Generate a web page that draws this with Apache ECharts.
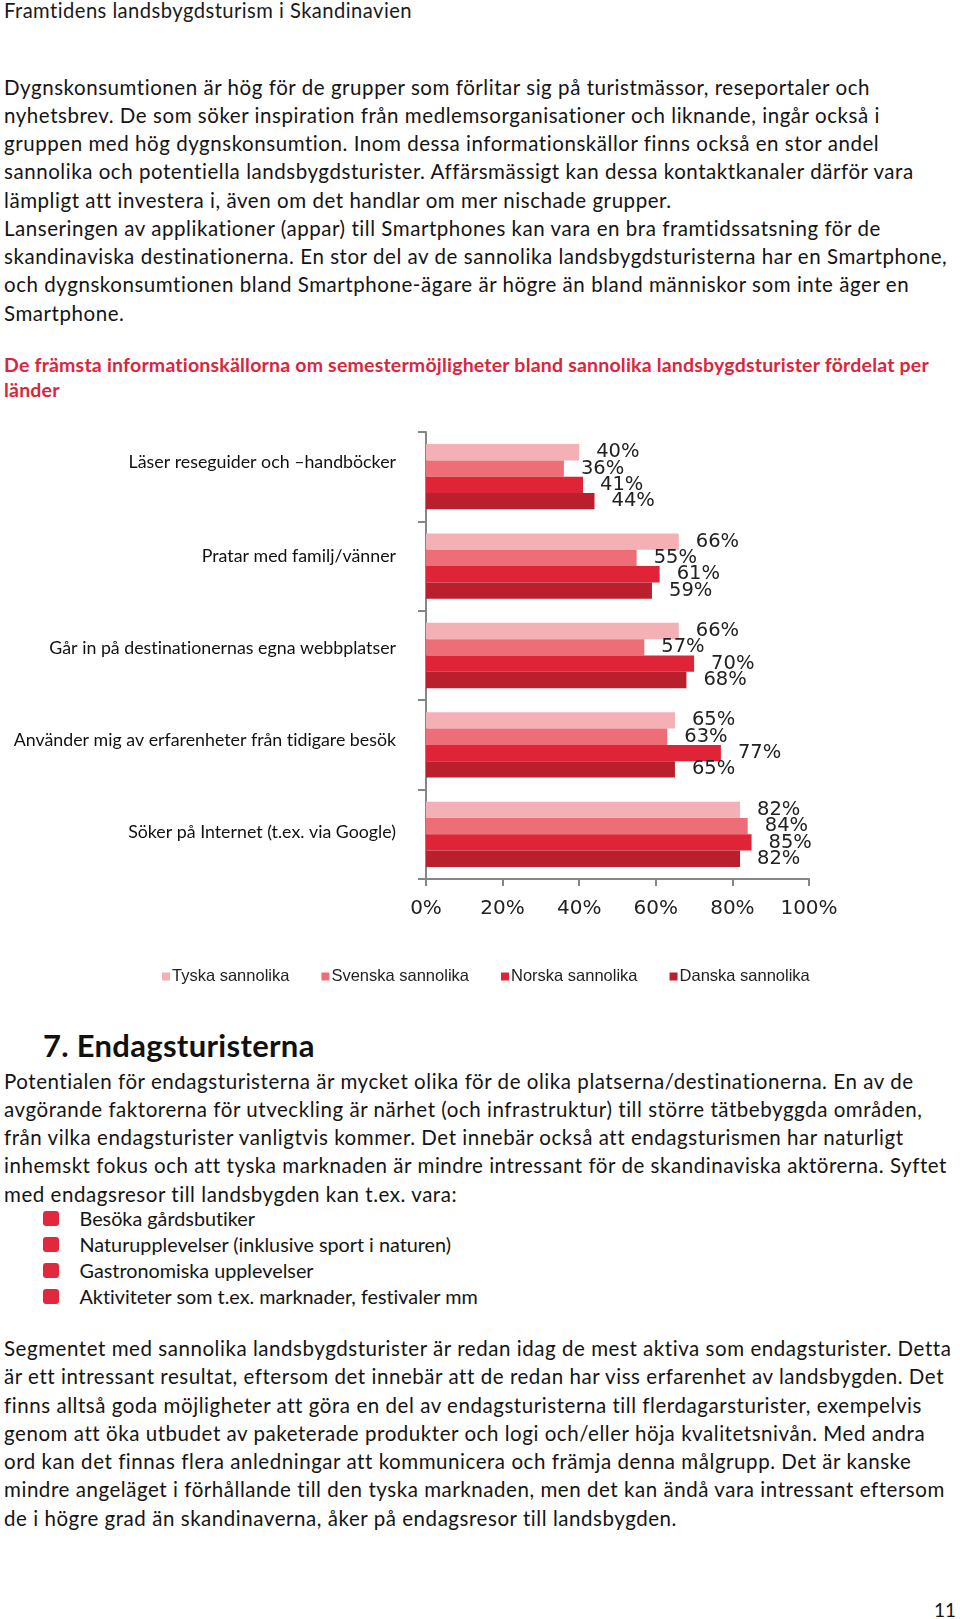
<!DOCTYPE html>
<html>
<head>
<meta charset="utf-8">
<script src="https://cdn.jsdelivr.net/npm/echarts@6/dist/echarts.min.js"></script>
<style>
  html, body { margin: 0; padding: 0; background: #fff; }
  body { width: 960px; height: 1619px; position: relative; overflow: hidden; font-family: Lato, "Noto Sans", sans-serif; color: #141414; font-variant-ligatures: none; }
  .blk { position: absolute; left: 4px; }
  .blk div { white-space: nowrap; }
  .body { font-size: 20.5px; letter-spacing: 0.55px; line-height: 28.25px; }
  #hdr { top: -0.5px; font-size: 20.2px; letter-spacing: 0.45px; line-height: 21px; color: #1a1a1a; }
  #p1 { top: 72.5px; }
  #ttl { top: 351.5px; font-size: 19.5px; letter-spacing: 0.2px; line-height: 25.8px; font-weight: bold; color: #DA263C; }
  #h7 { top: 1027px; left: 43px; font-size: 31px; letter-spacing: 0.3px; line-height: 36px; font-weight: bold; color: #111; }
  #p2 { top: 1066.7px; }
  #bul { top: 1206.2px; left: 0; font-size: 19.8px; line-height: 25.8px; }
  #bul div { position: relative; padding-left: 79.5px; }
  #bul div span.sq { position: absolute; left: 43px; top: 5px; width: 16px; height: 15px; border-radius: 3px; background: #E2283D; }
  #p3 { top: 1334px; }
  #pg { position: absolute; right: 4px; top: 1599px; font-size: 19px; line-height: 22px; }
  #chart { position: absolute; left: 0; top: 400px; width: 960px; height: 600px; }
</style>
</head>
<body>
<div id="hdr" class="blk">Framtidens landsbygdsturism i Skandinavien</div>
<div id="p1" class="blk body">
  <div>Dygnskonsumtionen är hög för de grupper som förlitar sig på turistmässor, reseportaler och</div>
  <div>nyhetsbrev. De som söker inspiration från medlemsorganisationer och liknande, ingår också i</div>
  <div>gruppen med hög dygnskonsumtion. Inom dessa informationskällor finns också en stor andel</div>
  <div>sannolika och potentiella landsbygdsturister. Affärsmässigt kan dessa kontaktkanaler därför vara</div>
  <div>lämpligt att investera i, även om det handlar om mer nischade grupper.</div>
  <div>Lanseringen av applikationer (appar) till Smartphones kan vara en bra framtidssatsning för de</div>
  <div>skandinaviska destinationerna. En stor del av de sannolika landsbygdsturisterna har en Smartphone,</div>
  <div>och dygnskonsumtionen bland Smartphone-ägare är högre än bland människor som inte äger en</div>
  <div>Smartphone.</div>
</div>
<div id="ttl" class="blk">
  <div>De främsta informationskällorna om semestermöjligheter bland sannolika landsbygdsturister fördelat per</div>
  <div>länder</div>
</div>
<div id="chart"></div>
<div id="h7" class="blk">7. Endagsturisterna</div>
<div id="p2" class="blk body">
  <div>Potentialen för endagsturisterna är mycket olika för de olika platserna/destinationerna. En av de</div>
  <div>avgörande faktorerna för utveckling är närhet (och infrastruktur) till större tätbebyggda områden,</div>
  <div>från vilka endagsturister vanligtvis kommer. Det innebär också att endagsturismen har naturligt</div>
  <div>inhemskt fokus och att tyska marknaden är mindre intressant för de skandinaviska aktörerna. Syftet</div>
  <div>med endagsresor till landsbygden kan t.ex. vara:</div>
</div>
<div id="bul" class="blk">
  <div><span class="sq"></span>Besöka gårdsbutiker</div>
  <div><span class="sq"></span>Naturupplevelser (inklusive sport i naturen)</div>
  <div><span class="sq"></span>Gastronomiska upplevelser</div>
  <div><span class="sq"></span>Aktiviteter som t.ex. marknader, festivaler mm</div>
</div>
<div id="p3" class="blk body">
  <div>Segmentet med sannolika landsbygdsturister är redan idag de mest aktiva som endagsturister. Detta</div>
  <div>är ett intressant resultat, eftersom det innebär att de redan har viss erfarenhet av landsbygden. Det</div>
  <div>finns alltså goda möjligheter att göra en del av endagsturisterna till flerdagarsturister, exempelvis</div>
  <div>genom att öka utbudet av paketerade produkter och logi och/eller höja kvalitetsnivån. Med andra</div>
  <div>ord kan det finnas flera anledningar att kommunicera och främja denna målgrupp. Det är kanske</div>
  <div>mindre angeläget i förhållande till den tyska marknaden, men det kan ändå vara intressant eftersom</div>
  <div>de i högre grad än skandinaverna, åker på endagsresor till landsbygden.</div>
</div>
<div id="pg">11</div>

<script>
// ---- data ----
const categories = [
  "Läser reseguider och –handböcker",
  "Pratar med familj/vänner",
  "Går in på destinationernas egna webbplatser",
  "Använder mig av erfarenheter från tidigare besök",
  "Söker på Internet (t.ex. via Google)"
];
const seriesNames = ["Tyska sannolika", "Svenska sannolika", "Norska sannolika", "Danska sannolika"];
const tyska   = [40, 66, 66, 65, 82];
const svenska = [36, 55, 57, 63, 84];
const norska  = [41, 61, 70, 77, 85];
const danska  = [44, 59, 68, 65, 82];
const xTicks = [0, 20, 40, 60, 80, 100];

// ---- styles ----
const colors = ["#F3B0B5", "#EE6E77", "#DF2437", "#BA1F2E"];
const labelLift = [14, 10, 7, 5, 2];
const rich = {};
labelLift.forEach((d, i) => { rich["o" + i] = { padding: [0, 0, 2 * d, 0], fontFamily: "Lato", fontSize: 17.8, color: "#111" }; });

const chart = echarts.init(document.getElementById("chart"), null, { renderer: "canvas" });
const valueSets = [tyska, svenska, norska, danska];
chart.setOption({
  animation: false,
  color: colors,
  grid: { left: 426, top: 32, width: 383, height: 447, containLabel: false },
  legend: {
    data: seriesNames,
    left: 157, top: 563,
    icon: "rect", itemWidth: 8, itemHeight: 8, itemGap: 32,
    textStyle: { fontFamily: "Liberation Sans", fontSize: 16.5, color: "#222", padding: [0, 0, 0, -3] }
  },
  xAxis: {
    type: "value", min: xTicks[0], max: xTicks[xTicks.length - 1], interval: 20,
    axisLine: { show: true, lineStyle: { color: "#868686", width: 2 } },
    axisTick: { show: true, inside: false, length: 7, lineStyle: { color: "#868686", width: 2 } },
    splitLine: { show: false },
    axisLabel: { formatter: "{value}%", margin: 20, fontFamily: "DejaVu Sans", fontSize: 20, color: "#222" }
  },
  yAxis: {
    type: "category", data: categories, inverse: true,
    axisLine: { show: true, lineStyle: { color: "#868686", width: 2 } },
    axisTick: { show: true, inside: false, length: 8, alignWithLabel: false, lineStyle: { color: "#868686", width: 2 } },
    axisLabel: {
      margin: 30,
      formatter: (v, i) => "{o" + i + "|" + v + "}",
      rich: rich
    }
  },
  series: seriesNames.map((n, k) => ({
    name: n, type: "bar", data: valueSets[k],
    barGap: "0%", barCategoryGap: "27%",
    itemStyle: { color: colors[k] },
    label: { show: true, position: "right", distance: 17, formatter: "{c}%", fontFamily: "DejaVu Sans", fontSize: 19.5, color: "#222" }
  }))
});
</script>
</body>
</html>
